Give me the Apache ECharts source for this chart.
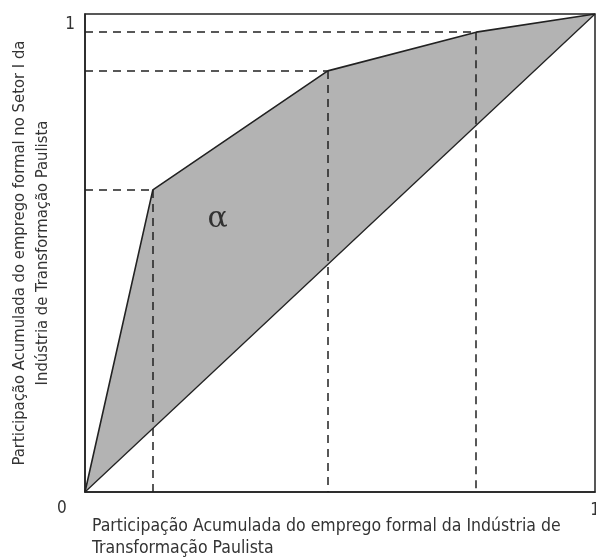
<!DOCTYPE html>
<html>
<head>
<meta charset="utf-8">
<script src="https://cdn.jsdelivr.net/npm/echarts@6/dist/echarts.min.js"></script>
<style>
  html, body { margin: 0; padding: 0; background: #fff; }
  #chart { width: 596px; height: 559px; }
</style>
</head>
<body>
<div id="chart"></div>
<script>
// pontos da curva (participação acumulada)
let curveX = [0, 0.133, 0.476, 0.767, 1];
let curveY = [0, 0.632, 0.881, 0.962, 1];
let diagX = [0, 1];
let diagY = [0, 1];
let kinkIdx = [1, 2, 3];
let alphaPos = [0.26, 0.57];

let font = "'Liberation Sans Narrow', 'DejaVu Sans Condensed', sans-serif";
let ink = '#222';

let chart = echarts.init(document.getElementById('chart'));

// linhas tracejadas até os eixos
let dashLines = [];
kinkIdx.forEach(function (i) {
    dashLines.push([{ coord: [0, curveY[i]] }, { coord: [curveX[i], curveY[i]] }]);
    dashLines.push([{ coord: [curveX[i], curveY[i]] }, { coord: [curveX[i], 0] }]);
});

chart.setOption({
    animation: false,
    grid: {
        left: 85, right: 1, top: 14, bottom: 67,
        outerBoundsMode: 'none',
        containLabel: false,
        show: true, borderColor: ink, borderWidth: 1.5
    },
    xAxis: {
        type: 'value', min: 0, max: 1, interval: 1,
        axisLine: { show: true, lineStyle: { color: ink, width: 1.5 } },
        axisTick: { show: false },
        splitLine: { show: false },
        axisLabel: {
            formatter: function (v) { return v === 1 ? '1' : ''; },
            fontFamily: font, fontSize: 17, color: '#333', margin: 10
        }
    },
    yAxis: {
        type: 'value', min: 0, max: 1, interval: 1,
        axisLine: { show: true, lineStyle: { color: ink, width: 1.5 } },
        axisTick: { show: false },
        splitLine: { show: false },
        axisLabel: {
            formatter: function (v) { return v === 1 ? '1' : ''; },
            fontFamily: font, fontSize: 17, color: '#333', margin: 10,
            verticalAlign: 'top', padding: [2, 0, 0, 0]
        },
        name: 'Participação Acumulada do emprego formal no Setor I da\nIndústria de Transformação Paulista',
        nameLocation: 'middle',
        nameGap: 31,
        nameTextStyle: { fontFamily: font, fontSize: 16.5, color: '#333', lineHeight: 23 }
    },
    graphic: [
        { type: 'text', x: 57, y: 500, style: { text: '0', font: '17px ' + font, fill: '#333' } },
        {
            type: 'text', x: 92, y: 515,
            style: {
                text: 'Participação Acumulada do emprego formal da Indústria de\nTransformação Paulista',
                font: '17.5px ' + font, fill: '#333', lineHeight: 22
            }
        }
    ],
    series: [
        {
            type: 'custom',
            silent: true,
            data: [0],
            renderItem: function (params, api) {
                let pts = curveX.map(function (x, i) { return api.coord([x, curveY[i]]); });
                return {
                    type: 'polygon',
                    shape: { points: pts },
                    style: { fill: '#b3b3b3', stroke: null }
                };
            },
            z: 1
        },
        {
            type: 'line',
            data: diagX.map(function (x, i) { return [x, diagY[i]]; }),
            symbol: 'none',
            lineStyle: { color: ink, width: 1.3 },
            z: 3
        },
        {
            type: 'line',
            data: curveX.map(function (x, i) { return [x, curveY[i]]; }),
            symbol: 'none',
            lineStyle: { color: ink, width: 1.6 },
            z: 4,
            markLine: {
                silent: true,
                symbol: 'none',
                label: { show: false },
                lineStyle: { color: ink, width: 1.5, type: [8, 6] },
                data: dashLines
            }
        },
        {
            // letra alfa dentro da área
            type: 'scatter',
            silent: true,
            symbolSize: 0,
            data: [alphaPos],
            label: {
                show: true,
                position: 'inside',
                formatter: 'α',
                fontFamily: '"DejaVu Serif", "Liberation Serif", serif',
                fontSize: 30,
                color: '#111',
                textBorderWidth: 0
            },
            z: 5
        }
    ]
});
</script>
</body>
</html>
